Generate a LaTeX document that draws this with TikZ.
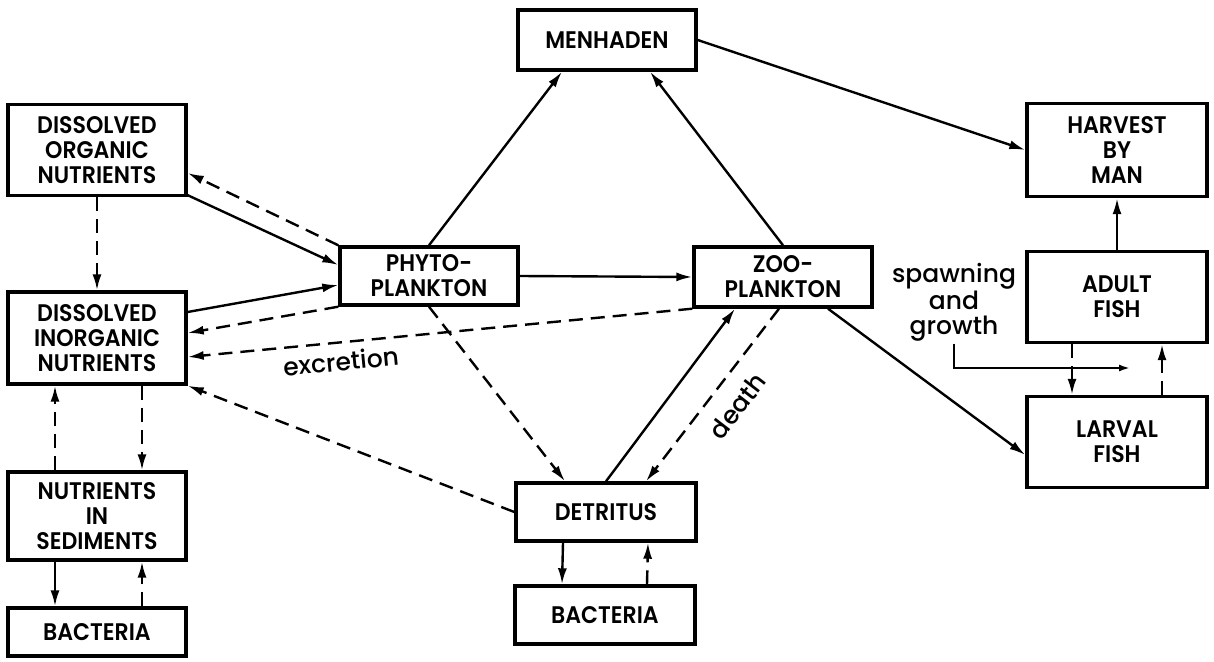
\documentclass[tikz,border=0pt]{standalone}
\usepackage{fontspec}
\setmainfont{Poppins}
\IfFontExistsTF{Poppins SemiBold}
  {\newfontfamily\boxfont{Poppins SemiBold}[FakeStretch=0.92]}
  {\newfontfamily\boxfont{Poppins}[FakeStretch=0.92,UprightFont=*-Bold]}
\IfFontExistsTF{Poppins Medium}
  {\newfontfamily\lblfont{Poppins Medium}}
  {\newfontfamily\lblfont{Poppins}}
\usetikzlibrary{arrows.meta}

\begin{document}
\begin{tikzpicture}[
    x=0.5pt, y=-0.5pt,
    >={Latex[length=8pt,width=4.5pt]},
    box/.style={draw, line width=1.7pt, align=center, minimum width=89pt, inner sep=2pt,
      font=\boxfont\fontsize{12}{12.5}\selectfont},
    flow/.style={->, line width=1.2pt},
    loss/.style={->, line width=1.2pt, dash pattern=on 7pt off 4pt},
    lbl/.style={inner sep=1pt, font=\lblfont\fontsize{12.5}{12.5}\selectfont}
  ]
  \useasboundingbox (0,0) rectangle (1214,662);

  % 1. column x-coordinates (pixels of the original figure)
  \def\xL{97}
  \def\xP{429}
  \def\xM{606}
  \def\xZ{783}
  \def\xR{1117}

  % 2. boxes
  \node[box, minimum height=30pt] (menh) at (607, 40) {MENHADEN};

  \node[box, minimum height=45.5pt] (don) at (\xL, 150) {DISSOLVED\\ORGANIC\\NUTRIENTS};
  \node[box, minimum height=46pt] (din) at (\xL, 338) {DISSOLVED\\INORGANIC\\NUTRIENTS};
  \node[box, minimum height=44pt] (sed) at (\xL, 516) {NUTRIENTS\\IN\\SEDIMENTS};
  \node[box, minimum height=24pt] (bacl) at (\xL, 632) {BACTERIA};

  \node[box, minimum height=29pt] (phyto) at (\xP, 276) {PHYTO-\\PLANKTON};
  \node[box, minimum height=30pt] (zoo) at (\xZ, 277) {ZOO-\\PLANKTON};

  \node[box, minimum height=29pt, minimum width=90pt] (detr) at (\xM, 512) {DETRITUS};
  \node[box, minimum height=29pt, minimum width=90pt] (bacm) at (605, 615) {BACTERIA};

  \node[box, minimum height=46.5pt, minimum width=90pt] (harv) at (\xR, 150) {HARVEST\\BY\\MAN};
  \node[box, minimum height=45.5pt, minimum width=90pt] (adult) at (\xR, 297) {ADULT\\FISH};
  \node[box, minimum height=45.5pt, minimum width=90pt] (larval) at (\xR, 442) {LARVAL\\FISH};

  % --- grazing and harvest ---
  \draw[flow] (phyto.north) -- ([xshift=-22.5pt]menh.south);
  \draw[flow] (zoo.north) -- ([xshift=21.5pt]menh.south);
  \draw[flow] (menh.east) -- (harv.west);
  \draw[flow] (adult.north) -- (harv.south);

  % --- nutrients to phytoplankton ---
  \draw[flow] ([yshift=1pt]don.south east) -- ([yshift=5.5pt]phyto.west);
  \draw[loss] (phyto.north west) -- ([yshift=-11.5pt]don.east);
  \draw[flow] ([yshift=13pt]din.east) -- ([yshift=-4.5pt]phyto.west);
  \draw[loss] (phyto.south west) -- ([yshift=2.5pt]din.east);
  \draw[loss] (zoo.south west) -- ([yshift=-9.5pt]din.east)
    node[lbl, pos=0.7, below=3pt, sloped] {excretion};
  \draw[loss] (detr.west) -- (din.south east);
  \draw[loss] (don.south) -- (din.north);

  % --- sediments ---
  \draw[loss] ([xshift=-21pt]sed.north) -- ([xshift=-21pt]din.south);
  \draw[loss] ([xshift=22.5pt]din.south) -- ([xshift=22.5pt]sed.north);
  \draw[flow] ([xshift=-21pt]sed.south) -- ([xshift=-21pt]bacl.north);
  \draw[loss] ([xshift=22.5pt]bacl.north) -- ([xshift=22.5pt]sed.south);

  % --- plankton and detritus ---
  \draw[flow] (phyto.east) -- (zoo.west);
  \draw[loss] (phyto.south) -- ([xshift=-20.5pt]detr.north);
  \draw[flow] (detr.north) -- ([xshift=-24pt]zoo.south);
  \draw[loss] ([xshift=-2pt]zoo.south) -- ([xshift=20pt]detr.north)
    node[lbl, pos=0.47, below=7pt, sloped] {death};
  \draw[flow] ([xshift=-21.5pt]detr.south) -- ([xshift=-21.5pt]bacm.north);
  \draw[loss] ([xshift=21pt]bacm.north) -- ([xshift=21pt]detr.south);

  % --- fish ---
  \draw[flow] ([xshift=22.5pt]zoo.south) -- ([yshift=-6.5pt]larval.west);
  \draw[loss] ([xshift=-22.5pt]adult.south) -- ([xshift=-22.5pt]larval.north);
  \draw[loss] ([xshift=22.5pt]larval.north) -- ([xshift=22.5pt]adult.south);

  \node[lbl, align=center] (spawn) at (954, 302) {spawning\\and\\growth};
  \coordinate (spawnend) at (1130, 368);
  \draw[->, line width=1pt, >={Latex[length=5.5pt,width=3.5pt]}] (spawn.south) |- (spawnend);

\end{tikzpicture}
\end{document}
